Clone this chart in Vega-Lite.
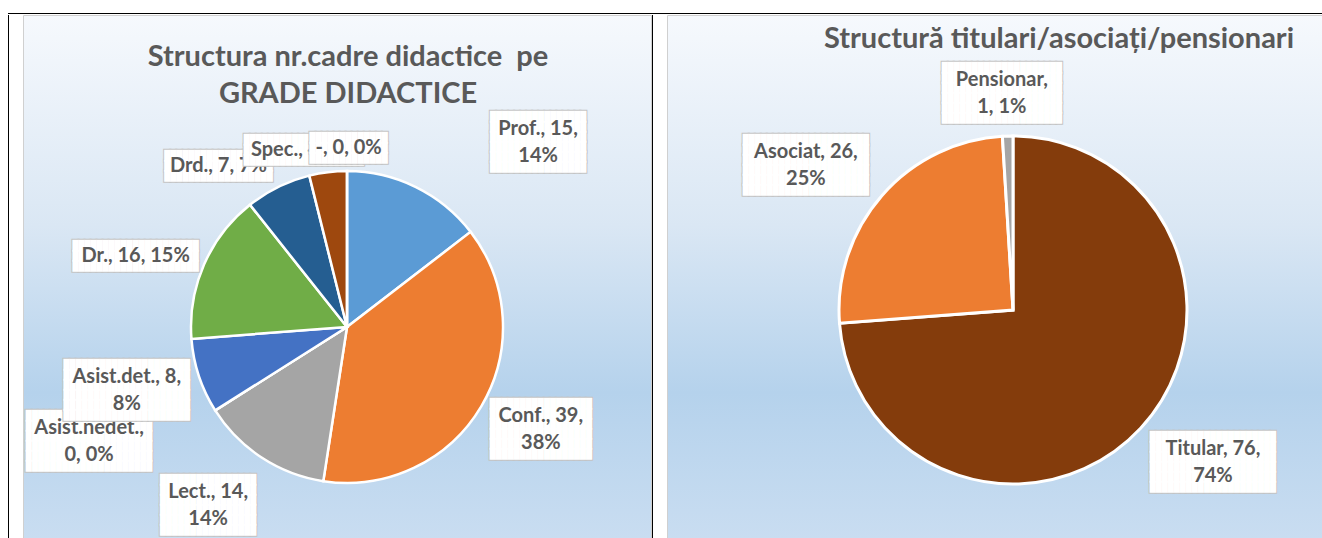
{
  "$schema": "https://vega.github.io/schema/vega-lite/v6.json",
  "background": "#FFFFFF",
  "padding": {"left": 8, "top": 13, "right": 0, "bottom": 0},
  "config": {
    "view": {"stroke": null},
    "style": {
      "lborder": {"font": "DejaVu Sans Mono", "fontSize": 10, "lineHeight": 10, "lineBreak": "\n", "align": "center", "baseline": "middle"},
      "lbox": {"font": "DejaVu Sans Mono", "fontSize": 10, "lineHeight": 10, "lineBreak": "\n", "align": "center", "baseline": "middle"},
      "ltext": {"font": "Lato", "fontWeight": "bold", "fontSize": 20, "lineHeight": 27, "lineBreak": "\n", "align": "center", "baseline": "middle"}
    }
  },
  "vconcat": [
    {"data": {"values": []}, "mark": "point", "width": 1314, "height": 1, "view": {"fill": "#000000", "stroke": null}},
    {
      "hconcat": [
        {"data": {"values": []}, "mark": "point", "width": 1, "height": 524, "view": {"fill": "#000000", "stroke": null}},
        {"data": {"values": []}, "mark": "point", "width": 13, "height": 524, "view": {"fill": null, "stroke": null}},
        {
          "width": 628,
          "height": 524,
          "view": {"fill": {"gradient": "linear", "x1": 0, "y1": 0, "x2": 0, "y2": 1, "stops": [{"offset": 0, "color": "#F6F9FD"}, {"offset": 0.4, "color": "#DAE7F4"}, {"offset": 0.72, "color": "#B5D2EC"}, {"offset": 1, "color": "#C9DDF1"}]}, "stroke": "#D0D0D0"},
          "title": {"text": ["Structura nr.cadre didactice\u00a0 pe", "GRADE DIDACTICE"], "font": "Lato", "fontSize": 29, "fontWeight": "bold", "color": "#595959", "anchor": "middle", "frame": "group", "offset": -117, "baseline": "alphabetic", "lineHeight": 37, "dx": 11},
          "data": {"values": [
            {"i": 1, "cat": "Prof.", "value": 15, "label": "Prof., 15,\n14%"},
            {"i": 2, "cat": "Conf.", "value": 39, "label": "Conf., 39,\n38%"},
            {"i": 3, "cat": "Lect.", "value": 14, "label": "Lect., 14,\n14%"},
            {"i": 4, "cat": "Asist.nedet.", "value": 0, "label": "Asist.nedet.,\n0, 0%"},
            {"i": 5, "cat": "Asist.det.", "value": 8, "label": "Asist.det., 8,\n8%"},
            {"i": 6, "cat": "Dr.", "value": 16, "label": "Dr., 16, 15%"},
            {"i": 7, "cat": "Drd.", "value": 7, "label": "Drd., 7, 7%"},
            {"i": 8, "cat": "Spec.", "value": 4, "label": "Spec., 4, 4%"},
            {"i": 9, "cat": "-", "value": 0, "label": "-, 0, 0%"}
          ]},
          "encoding": {
            "theta": {"field": "value", "type": "quantitative", "stack": true},
            "order": {"field": "i", "type": "quantitative"}
          },
          "layer": [
            {"mark": {"type": "arc", "x": 324, "y": 312, "outerRadius": 156, "stroke": "#FFFFFF", "strokeWidth": 2.5},
             "encoding": {"color": {"field": "cat", "type": "nominal", "legend": null, "scale": {"domain": ["Prof.", "Conf.", "Lect.", "Asist.nedet.", "Asist.det.", "Dr.", "Drd.", "Spec.", "-"], "range": ["#5B9BD5", "#ED7D31", "#A5A5A5", "#FFC000", "#4472C4", "#70AD47", "#255E91", "#9E480E", "#636363"]}}}},

            {"mark": {"type": "text", "style": "lborder", "x": 324, "y": 312, "radius": 266, "thetaOffset": 0.344, "dy": -25, "fill": "#C4C4C4", "stroke": "#C4C4C4", "strokeWidth": 2},
             "encoding": {"text": {"condition": {"test": "datum.cat === 'Prof.'", "value": "████████████████\n████████████████\n████████████████\n████████████████\n████████████████\n████████████████"}, "value": ""}}},
            {"mark": {"type": "text", "style": "lbox", "x": 324, "y": 312, "radius": 266, "thetaOffset": 0.344, "dy": -25, "fill": "#FFFFFF"},
             "encoding": {"text": {"condition": {"test": "datum.cat === 'Prof.'", "value": "████████████████\n████████████████\n████████████████\n████████████████\n████████████████\n████████████████"}, "value": ""}}},
            {"mark": {"type": "text", "style": "ltext", "x": 324, "y": 312, "radius": 266, "thetaOffset": 0.344, "dy": -13, "fill": "#595959"},
             "encoding": {"text": {"condition": {"test": "datum.cat === 'Prof.'", "field": "label", "type": "nominal"}, "value": ""}}},

            {"mark": {"type": "text", "style": "lborder", "x": 324, "y": 312, "radius": 219, "thetaOffset": -0.05, "dy": -25, "fill": "#C4C4C4", "stroke": "#C4C4C4", "strokeWidth": 2},
             "encoding": {"text": {"condition": {"test": "datum.cat === 'Conf.'", "value": "█████████████████\n█████████████████\n█████████████████\n█████████████████\n█████████████████\n█████████████████"}, "value": ""}}},
            {"mark": {"type": "text", "style": "lbox", "x": 324, "y": 312, "radius": 219, "thetaOffset": -0.05, "dy": -25, "fill": "#FFFFFF"},
             "encoding": {"text": {"condition": {"test": "datum.cat === 'Conf.'", "value": "█████████████████\n█████████████████\n█████████████████\n█████████████████\n█████████████████\n█████████████████"}, "value": ""}}},
            {"mark": {"type": "text", "style": "ltext", "x": 324, "y": 312, "radius": 219, "thetaOffset": -0.05, "dy": -13, "fill": "#595959"},
             "encoding": {"text": {"condition": {"test": "datum.cat === 'Conf.'", "field": "label", "type": "nominal"}, "value": ""}}},

            {"mark": {"type": "text", "style": "lborder", "x": 324, "y": 312, "radius": 226, "thetaOffset": 0.082, "dy": -25, "fill": "#C4C4C4", "stroke": "#C4C4C4", "strokeWidth": 2},
             "encoding": {"text": {"condition": {"test": "datum.cat === 'Lect.'", "value": "████████████████\n████████████████\n████████████████\n████████████████\n████████████████\n████████████████"}, "value": ""}}},
            {"mark": {"type": "text", "style": "lbox", "x": 324, "y": 312, "radius": 226, "thetaOffset": 0.082, "dy": -25, "fill": "#FFFFFF"},
             "encoding": {"text": {"condition": {"test": "datum.cat === 'Lect.'", "value": "████████████████\n████████████████\n████████████████\n████████████████\n████████████████\n████████████████"}, "value": ""}}},
            {"mark": {"type": "text", "style": "ltext", "x": 324, "y": 312, "radius": 226, "thetaOffset": 0.082, "dy": -13, "fill": "#595959"},
             "encoding": {"text": {"condition": {"test": "datum.cat === 'Lect.'", "field": "label", "type": "nominal"}, "value": ""}}},

            {"mark": {"type": "text", "style": "lborder", "x": 324, "y": 312, "radius": 282, "thetaOffset": 0.148, "dy": -25, "fill": "#C4C4C4", "stroke": "#C4C4C4", "strokeWidth": 2},
             "encoding": {"text": {"condition": {"test": "datum.cat === 'Asist.nedet.'", "value": "█████████████████████\n█████████████████████\n█████████████████████\n█████████████████████\n█████████████████████\n█████████████████████"}, "value": ""}}},
            {"mark": {"type": "text", "style": "lbox", "x": 324, "y": 312, "radius": 282, "thetaOffset": 0.148, "dy": -25, "fill": "#FFFFFF"},
             "encoding": {"text": {"condition": {"test": "datum.cat === 'Asist.nedet.'", "value": "█████████████████████\n█████████████████████\n█████████████████████\n█████████████████████\n█████████████████████\n█████████████████████"}, "value": ""}}},
            {"mark": {"type": "text", "style": "ltext", "x": 324, "y": 312, "radius": 282, "thetaOffset": 0.148, "dy": -13, "fill": "#595959"},
             "encoding": {"text": {"condition": {"test": "datum.cat === 'Asist.nedet.'", "field": "label", "type": "nominal"}, "value": ""}}},

            {"mark": {"type": "text", "style": "lborder", "x": 324, "y": 312, "radius": 229, "thetaOffset": 0.042, "dy": -25, "fill": "#C4C4C4", "stroke": "#C4C4C4", "strokeWidth": 2},
             "encoding": {"text": {"condition": {"test": "datum.cat === 'Asist.det.'", "value": "█████████████████████\n█████████████████████\n█████████████████████\n█████████████████████\n█████████████████████\n█████████████████████"}, "value": ""}}},
            {"mark": {"type": "text", "style": "lbox", "x": 324, "y": 312, "radius": 229, "thetaOffset": 0.042, "dy": -25, "fill": "#FFFFFF"},
             "encoding": {"text": {"condition": {"test": "datum.cat === 'Asist.det.'", "value": "█████████████████████\n█████████████████████\n█████████████████████\n█████████████████████\n█████████████████████\n█████████████████████"}, "value": ""}}},
            {"mark": {"type": "text", "style": "ltext", "x": 324, "y": 312, "radius": 229, "thetaOffset": 0.042, "dy": -13, "fill": "#595959"},
             "encoding": {"text": {"condition": {"test": "datum.cat === 'Asist.det.'", "field": "label", "type": "nominal"}, "value": ""}}},

            {"mark": {"type": "text", "style": "lborder", "x": 324, "y": 312, "radius": 223, "thetaOffset": -0.087, "dy": -10, "fill": "#C4C4C4", "stroke": "#C4C4C4", "strokeWidth": 2},
             "encoding": {"text": {"condition": {"test": "datum.cat === 'Dr.'", "value": "█████████████████████\n█████████████████████\n█████████████████████"}, "value": ""}}},
            {"mark": {"type": "text", "style": "lbox", "x": 324, "y": 312, "radius": 223, "thetaOffset": -0.087, "dy": -10, "fill": "#FFFFFF"},
             "encoding": {"text": {"condition": {"test": "datum.cat === 'Dr.'", "value": "█████████████████████\n█████████████████████\n█████████████████████"}, "value": ""}}},
            {"mark": {"type": "text", "style": "ltext", "x": 324, "y": 312, "radius": 223, "thetaOffset": -0.087, "fill": "#595959"},
             "encoding": {"text": {"condition": {"test": "datum.cat === 'Dr.'", "field": "label", "type": "nominal"}, "value": ""}}},

            {"mark": {"type": "text", "style": "lborder", "x": 324, "y": 312, "radius": 206, "thetaOffset": -0.216, "dy": -10, "fill": "#C4C4C4", "stroke": "#C4C4C4", "strokeWidth": 2},
             "encoding": {"text": {"condition": {"test": "datum.cat === 'Drd.'", "value": "██████████████████\n██████████████████\n██████████████████"}, "value": ""}}},
            {"mark": {"type": "text", "style": "lbox", "x": 324, "y": 312, "radius": 206, "thetaOffset": -0.216, "dy": -10, "fill": "#FFFFFF"},
             "encoding": {"text": {"condition": {"test": "datum.cat === 'Drd.'", "value": "██████████████████\n██████████████████\n██████████████████"}, "value": ""}}},
            {"mark": {"type": "text", "style": "ltext", "x": 324, "y": 312, "radius": 206, "thetaOffset": -0.216, "fill": "#595959"},
             "encoding": {"text": {"condition": {"test": "datum.cat === 'Drd.'", "field": "label", "type": "nominal"}, "value": ""}}},

            {"mark": {"type": "text", "style": "lborder", "x": 324, "y": 312, "radius": 182, "thetaOffset": -0.117, "dy": -10, "fill": "#C4C4C4", "stroke": "#C4C4C4", "strokeWidth": 2},
             "encoding": {"text": {"condition": {"test": "datum.cat === 'Spec.'", "value": "████████████████████\n████████████████████\n████████████████████"}, "value": ""}}},
            {"mark": {"type": "text", "style": "lbox", "x": 324, "y": 312, "radius": 182, "thetaOffset": -0.117, "dy": -10, "fill": "#FFFFFF"},
             "encoding": {"text": {"condition": {"test": "datum.cat === 'Spec.'", "value": "████████████████████\n████████████████████\n████████████████████"}, "value": ""}}},
            {"mark": {"type": "text", "style": "ltext", "x": 324, "y": 312, "radius": 182, "thetaOffset": -0.117, "fill": "#595959"},
             "encoding": {"text": {"condition": {"test": "datum.cat === 'Spec.'", "field": "label", "type": "nominal"}, "value": ""}}},

            {"mark": {"type": "text", "style": "lborder", "x": 324, "y": 312, "radius": 179, "thetaOffset": 0.009, "dy": -10, "fill": "#C4C4C4", "stroke": "#C4C4C4", "strokeWidth": 2},
             "encoding": {"text": {"condition": {"test": "datum.cat === '-'", "value": "█████████████\n█████████████\n█████████████"}, "value": ""}}},
            {"mark": {"type": "text", "style": "lbox", "x": 324, "y": 312, "radius": 179, "thetaOffset": 0.009, "dy": -10, "fill": "#FFFFFF"},
             "encoding": {"text": {"condition": {"test": "datum.cat === '-'", "value": "█████████████\n█████████████\n█████████████"}, "value": ""}}},
            {"mark": {"type": "text", "style": "ltext", "x": 324, "y": 312, "radius": 179, "thetaOffset": 0.009, "fill": "#595959"},
             "encoding": {"text": {"condition": {"test": "datum.cat === '-'", "field": "label", "type": "nominal"}, "value": ""}}}
          ]
        },
        {"data": {"values": []}, "mark": "point", "width": 1, "height": 524, "view": {"fill": "#000000", "stroke": null}},
        {"data": {"values": []}, "mark": "point", "width": 13, "height": 524, "view": {"fill": null, "stroke": null}},
        {
          "width": 658,
          "height": 524,
          "view": {"fill": {"gradient": "linear", "x1": 0, "y1": 0, "x2": 0, "y2": 1, "stops": [{"offset": 0, "color": "#F6F9FD"}, {"offset": 0.4, "color": "#DAE7F4"}, {"offset": 0.72, "color": "#B5D2EC"}, {"offset": 1, "color": "#C9DDF1"}]}, "stroke": "#D0D0D0"},
          "title": {"text": "Structură titulari/asociați/pensionari", "font": "Lato", "fontSize": 29, "fontWeight": "bold", "color": "#595959", "anchor": "middle", "frame": "group", "offset": -62, "baseline": "alphabetic", "dx": 63},
          "data": {"values": [
            {"i": 1, "cat": "Titular", "value": 76, "label": "Titular, 76,\n74%"},
            {"i": 2, "cat": "Asociat", "value": 26, "label": "Asociat, 26,\n25%"},
            {"i": 3, "cat": "Pensionar", "value": 1, "label": "Pensionar,\n1, 1%"}
          ]},
          "encoding": {
            "theta": {"field": "value", "type": "quantitative", "stack": true},
            "order": {"field": "i", "type": "quantitative"}
          },
          "layer": [
            {"mark": {"type": "arc", "x": 346, "y": 295, "outerRadius": 174, "stroke": "#FFFFFF", "strokeWidth": 3},
             "encoding": {"color": {"field": "cat", "type": "nominal", "legend": null, "scale": {"domain": ["Titular", "Asociat", "Pensionar"], "range": ["#843C0C", "#ED7D31", "#A5A5A5"]}}}},

            {"mark": {"type": "text", "style": "lborder", "x": 346, "y": 295, "radius": 251, "thetaOffset": -0.098, "dy": -25, "fill": "#C4C4C4", "stroke": "#C4C4C4", "strokeWidth": 2},
             "encoding": {"text": {"condition": {"test": "datum.cat === 'Titular'", "value": "█████████████████████\n█████████████████████\n█████████████████████\n█████████████████████\n█████████████████████\n█████████████████████"}, "value": ""}}},
            {"mark": {"type": "text", "style": "lbox", "x": 346, "y": 295, "radius": 251, "thetaOffset": -0.098, "dy": -25, "fill": "#FFFFFF"},
             "encoding": {"text": {"condition": {"test": "datum.cat === 'Titular'", "value": "█████████████████████\n█████████████████████\n█████████████████████\n█████████████████████\n█████████████████████\n█████████████████████"}, "value": ""}}},
            {"mark": {"type": "text", "style": "ltext", "x": 346, "y": 295, "radius": 251, "thetaOffset": -0.098, "dy": -13, "fill": "#595959"},
             "encoding": {"text": {"condition": {"test": "datum.cat === 'Titular'", "field": "label", "type": "nominal"}, "value": ""}}},

            {"mark": {"type": "text", "style": "lborder", "x": 346, "y": 295, "radius": 253, "thetaOffset": -0.105, "dy": -25, "fill": "#C4C4C4", "stroke": "#C4C4C4", "strokeWidth": 2},
             "encoding": {"text": {"condition": {"test": "datum.cat === 'Asociat'", "value": "█████████████████████\n█████████████████████\n█████████████████████\n█████████████████████\n█████████████████████\n█████████████████████"}, "value": ""}}},
            {"mark": {"type": "text", "style": "lbox", "x": 346, "y": 295, "radius": 253, "thetaOffset": -0.105, "dy": -25, "fill": "#FFFFFF"},
             "encoding": {"text": {"condition": {"test": "datum.cat === 'Asociat'", "value": "█████████████████████\n█████████████████████\n█████████████████████\n█████████████████████\n█████████████████████\n█████████████████████"}, "value": ""}}},
            {"mark": {"type": "text", "style": "ltext", "x": 346, "y": 295, "radius": 253, "thetaOffset": -0.105, "dy": -13, "fill": "#595959"},
             "encoding": {"text": {"condition": {"test": "datum.cat === 'Asociat'", "field": "label", "type": "nominal"}, "value": ""}}},

            {"mark": {"type": "text", "style": "lborder", "x": 346, "y": 295, "radius": 217, "thetaOffset": -0.021, "dy": -25, "fill": "#C4C4C4", "stroke": "#C4C4C4", "strokeWidth": 2},
             "encoding": {"text": {"condition": {"test": "datum.cat === 'Pensionar'", "value": "████████████████████\n████████████████████\n████████████████████\n████████████████████\n████████████████████\n████████████████████"}, "value": ""}}},
            {"mark": {"type": "text", "style": "lbox", "x": 346, "y": 295, "radius": 217, "thetaOffset": -0.021, "dy": -25, "fill": "#FFFFFF"},
             "encoding": {"text": {"condition": {"test": "datum.cat === 'Pensionar'", "value": "████████████████████\n████████████████████\n████████████████████\n████████████████████\n████████████████████\n████████████████████"}, "value": ""}}},
            {"mark": {"type": "text", "style": "ltext", "x": 346, "y": 295, "radius": 217, "thetaOffset": -0.021, "dy": -13, "fill": "#595959"},
             "encoding": {"text": {"condition": {"test": "datum.cat === 'Pensionar'", "field": "label", "type": "nominal"}, "value": ""}}}
          ]
        }
      ],
      "spacing": 0,
      "resolve": {"scale": {"color": "independent", "theta": "independent"}}
    }
  ],
  "spacing": 0
}
